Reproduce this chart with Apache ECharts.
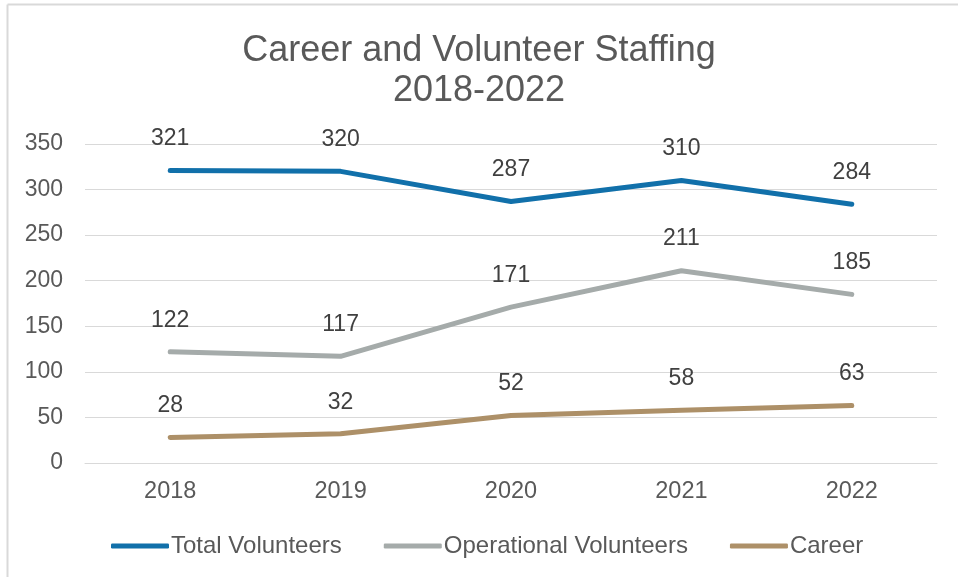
<!DOCTYPE html>
<html>
<head>
<meta charset="utf-8">
<script src="https://cdn.jsdelivr.net/npm/echarts@6/dist/echarts.min.js"></script>
<style>
  html, body { margin: 0; padding: 0; background: #fff; }
  #chart { width: 958px; height: 577px; }
</style>
</head>
<body>
<div id="chart"></div>
<script>
const years = ['2018', '2019', '2020', '2021', '2022'];
const totalVolunteers = [321, 320, 287, 310, 284];
const operationalVolunteers = [122, 117, 171, 211, 185];
const career = [28, 32, 52, 58, 63];
const yTicks = { min: 0, max: 350, interval: 50 };

const font = '"Liberation Sans", Arial, sans-serif';

function lineSeries(name, data, color) {
  return {
    name: name,
    type: 'line',
    data: data,
    symbol: 'circle',
    symbolSize: 0.1,
    showSymbol: true,
    lineStyle: { width: 5, color: color, cap: 'round', join: 'round' },
    itemStyle: { color: color },
    emphasis: { disabled: true },
    label: {
      show: true,
      position: 'top',
      distance: 20,
      color: '#404040',
      fontSize: 23,
      fontFamily: font
    }
  };
}

const chart = echarts.init(document.getElementById('chart'), null, { renderer: 'canvas' });
chart.setOption({
  animation: false,
  backgroundColor: '#fff',
  title: {
    text: 'Career and Volunteer Staffing\n2018-2022',
    left: 'center',
    top: 26,
    textStyle: {
      color: '#595959',
      fontSize: 36,
      fontWeight: 'normal',
      fontFamily: font,
      lineHeight: 40
    }
  },
  legend: {
    top: 529,
    left: 106,
    itemWidth: 58,
    itemHeight: 5,
    itemGap: 42,
    icon: 'roundRect',
    textStyle: { color: '#595959', fontSize: 24, fontFamily: font, padding: [0, 0, 0, -3] },
    data: ['Total Volunteers', 'Operational Volunteers', 'Career']
  },
  grid: { left: 85, right: 21, top: 144, bottom: 114, containLabel: false },
  xAxis: {
    type: 'category',
    data: years,
    boundaryGap: true,
    axisLine: { lineStyle: { color: '#d9d9d9', width: 1 } },
    axisTick: { show: false },
    axisLabel: { color: '#595959', fontSize: 23.5, fontFamily: font, margin: 17 }
  },
  yAxis: {
    type: 'value',
    min: yTicks.min,
    max: yTicks.max,
    interval: yTicks.interval,
    axisLine: { show: false },
    axisTick: { show: false },
    splitLine: { lineStyle: { color: '#d9d9d9', width: 1 } },
    axisLabel: { color: '#595959', fontSize: 23, fontFamily: font, margin: 22 }
  },
  graphic: [
    { type: 'line', shape: { x1: 7.5, y1: 4.5, x2: 7.5, y2: 577 }, style: { stroke: '#d9d9d9', lineWidth: 2 } },
    { type: 'line', shape: { x1: 7.5, y1: 4.5, x2: 958, y2: 4.5 }, style: { stroke: '#d9d9d9', lineWidth: 2 } }
  ],
  series: [
    lineSeries('Total Volunteers', totalVolunteers, '#1170aa'),
    lineSeries('Operational Volunteers', operationalVolunteers, '#a5abaa'),
    lineSeries('Career', career, '#ad9068')
  ]
});
</script>
</body>
</html>
